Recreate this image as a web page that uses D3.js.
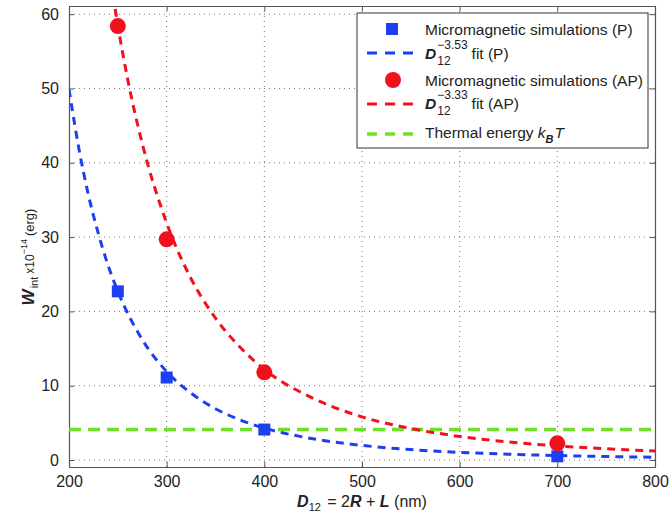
<!DOCTYPE html>
<html>
<head>
<meta charset="utf-8">
<script src="https://cdn.jsdelivr.net/npm/d3@7"></script>
<style>
  html, body { margin: 0; padding: 0; background: #fff; }
  svg { display: block; font-family: "Liberation Sans", Arial, Helvetica, sans-serif; }
</style>
</head>
<body>
<svg id="chart" width="672" height="514"></svg>
<script>
// ---------- data ----------
const xTicks = [200, 300, 400, 500, 600, 700, 800];
const yTicks = [0, 10, 20, 30, 40, 50, 60];

// micromagnetic simulations
const simD = [250, 300, 400, 700];
const simP = [22.7, 11.1, 4.1, 0.5];
const simAP = [58.4, 29.7, 11.8, 2.25];

// fitted curves
const fitPD = [200, 210, 220, 230, 240, 250, 275, 300, 325, 350, 375, 400, 450, 500, 550, 600, 650, 700, 750, 800];
const fitPW = [49.9, 42.0, 35.6, 30.5, 26.2, 22.7, 16.2, 11.9, 9.0, 6.9, 5.4, 4.3, 2.85, 1.97, 1.40, 1.03, 0.78, 0.60, 0.47, 0.37];
const fitAPD = [245, 250, 260, 275, 300, 325, 350, 375, 400, 450, 500, 550, 600, 650, 700, 750, 800];
const fitAPW = [62.6, 58.5, 51.3, 42.6, 31.9, 24.4, 19.1, 15.2, 12.2, 8.3, 5.8, 4.24, 3.17, 2.43, 1.90, 1.51, 1.22];

// thermal energy kBT
const thermalD = [200, 800];
const thermalW = [4.1, 4.1];

// ---------- layout ----------
const svg = d3.select("#chart");
const W = 672, H = 514;
const m = { left: 69, right: 17, top: 6, bottom: 47 };
const x = d3.scaleLinear().domain([200, 800]).range([m.left, W - m.right]);
const y = d3.scaleLinear().domain([-0.94, 61.1]).range([H - m.bottom, m.top]);

const BLUE = "#1e3ff0", RED = "#f2101c", GREEN = "#6ee02c";
const FONT = "'Liberation Sans', Arial, Helvetica, sans-serif";

svg.append("defs").append("clipPath").attr("id", "clip")
  .append("rect").attr("x", m.left).attr("y", m.top)
  .attr("width", W - m.left - m.right).attr("height", H - m.top - m.bottom);

// grid
const grid = svg.append("g").attr("stroke", "#666").attr("stroke-width", 0.9)
  .attr("stroke-dasharray", "1,4");
grid.selectAll(".gx").data(xTicks.filter(d => d > 200 && d < 800)).join("line")
  .attr("x1", d => x(d)).attr("x2", d => x(d))
  .attr("y1", y.range()[0]).attr("y2", y.range()[1]);
grid.selectAll(".gy").data(yTicks).join("line")
  .attr("y1", d => y(d)).attr("y2", d => y(d))
  .attr("x1", x.range()[0]).attr("x2", x.range()[1]);

// axes
const tickLen = 5;
const axB = svg.append("g").attr("transform", `translate(0,${y.range()[0]})`)
  .call(d3.axisBottom(x).tickValues(xTicks).tickFormat(d3.format("d")).tickSizeInner(-tickLen).tickSizeOuter(0).tickPadding(9));
const axT = svg.append("g").attr("transform", `translate(0,${y.range()[1]})`)
  .call(d3.axisTop(x).tickValues(xTicks).tickFormat("").tickSizeInner(-tickLen).tickSizeOuter(0));
const axL = svg.append("g").attr("transform", `translate(${x.range()[0]},0)`)
  .call(d3.axisLeft(y).tickValues(yTicks).tickFormat(d3.format("d")).tickSizeInner(-tickLen).tickSizeOuter(0).tickPadding(10));
const axR = svg.append("g").attr("transform", `translate(${x.range()[1]},0)`)
  .call(d3.axisRight(y).tickValues(yTicks).tickFormat("").tickSizeInner(-tickLen).tickSizeOuter(0));
[axB, axT, axL, axR].forEach(a => {
  a.select(".domain").attr("stroke", "#555").attr("stroke-width", 1.2);
  a.selectAll(".tick line").attr("stroke", "#555");
  a.selectAll("text").attr("font-size", 16).attr("font-family", FONT).attr("fill", "#222");
});

// curves
const plot = svg.append("g").attr("clip-path", "url(#clip)");
const line = d3.line().x(d => x(d[0])).y(d => y(d[1])).curve(d3.curveMonotoneX);

plot.append("path").datum(d3.zip(thermalD, thermalW)).attr("d", line)
  .attr("fill", "none").attr("stroke", GREEN).attr("stroke-width", 3.5).attr("stroke-dasharray", "12,7");
plot.append("path").datum(d3.zip(fitPD, fitPW)).attr("d", line)
  .attr("fill", "none").attr("stroke", BLUE).attr("stroke-width", 3).attr("stroke-dasharray", "8,6");
plot.append("path").datum(d3.zip(fitAPD, fitAPW)).attr("d", line)
  .attr("fill", "none").attr("stroke", RED).attr("stroke-width", 3).attr("stroke-dasharray", "8,6");

// markers
const sq = 12;
svg.append("g").selectAll("rect").data(d3.zip(simD, simP)).join("rect")
  .attr("x", d => x(d[0]) - sq / 2).attr("y", d => y(d[1]) - sq / 2)
  .attr("width", sq).attr("height", sq).attr("fill", BLUE);
svg.append("g").selectAll("circle").data(d3.zip(simD, simAP)).join("circle")
  .attr("cx", d => x(d[0])).attr("cy", d => y(d[1])).attr("r", 8).attr("fill", RED);

// ---------- rich text helper ----------
function rich(g, x0, y0, parts, anchor) {
  const grp = g.append("g");
  let cx = 0, stackStart = null, stackW = 0;
  parts.forEach(p => {
    const t = grp.append("text")
      .attr("x", cx).attr("y", p.dy || 0)
      .attr("font-size", p.size || 15)
      .attr("font-weight", p.bold ? "bold" : "normal")
      .attr("font-style", p.italic ? "italic" : "normal")
      .attr("font-family", FONT).attr("fill", "#222")
      .style("white-space", "pre")
      .text(p.t);
    const w = t.node().getComputedTextLength();
    if (p.stackStart) { stackStart = cx; stackW = w; t.attr("x", stackStart); }
    else if (p.stackEnd) { t.attr("x", stackStart); cx = stackStart + Math.max(stackW, w) + (p.gap || 0); }
    else cx += w + (p.gap || 0);
  });
  const shift = anchor === "middle" ? -cx / 2 : 0;
  grp.attr("transform", `translate(${x0 + shift},${y0})`);
  return grp;
}

// y-axis label
const yl = svg.append("g").attr("transform", "translate(34,257) rotate(-90)");
rich(yl, 0, 0, [
  { t: "W", size: 17, bold: true, italic: true, gap: 1 },
  { t: "int", size: 11, dy: 4, gap: 3 },
  { t: "x10", size: 12 },
  { t: "−14", size: 9, dy: -7, gap: 3 },
  { t: "(erg)", size: 13 }
], "middle");

// x-axis label
rich(svg, 362, 507, [
  { t: "D", size: 16, bold: true, italic: true },
  { t: "12", size: 11, dy: 4, gap: 2 },
  { t: " = 2", size: 16 },
  { t: "R", size: 16, bold: true, italic: true },
  { t: " + ", size: 16 },
  { t: "L", size: 16, bold: true, italic: true },
  { t: " (nm)", size: 16 }
], "middle");

// ---------- legend ----------
const lg = svg.append("g");
lg.append("rect").attr("x", 357).attr("y", 13).attr("width", 291).attr("height", 135)
  .attr("fill", "#fff").attr("stroke", "#333").attr("stroke-width", 1);
const lx1 = 367, lx2 = 417, tx = 425;
lg.append("rect").attr("x", 392 - 6).attr("y", 29 - 6).attr("width", 12).attr("height", 12).attr("fill", BLUE);
lg.append("line").attr("x1", lx1).attr("x2", lx2).attr("y1", 53).attr("y2", 53)
  .attr("stroke", BLUE).attr("stroke-width", 3).attr("stroke-dasharray", "10,8");
lg.append("circle").attr("cx", 393).attr("cy", 80).attr("r", 8).attr("fill", RED);
lg.append("line").attr("x1", lx1).attr("x2", lx2).attr("y1", 104).attr("y2", 104)
  .attr("stroke", RED).attr("stroke-width", 3).attr("stroke-dasharray", "10,8");
lg.append("line").attr("x1", lx1).attr("x2", lx2).attr("y1", 134).attr("y2", 134)
  .attr("stroke", GREEN).attr("stroke-width", 3.5).attr("stroke-dasharray", "10,8");

rich(lg, tx, 35, [{ t: "Micromagnetic simulations (P)", size: 15.5 }]);
rich(lg, tx, 59, [
  { t: "D", size: 15.5, bold: true, italic: true, gap: 1 },
  { t: "−3.53", size: 12, dy: -10, stackStart: true },
  { t: "12", size: 12, dy: 6, stackEnd: true, gap: 4 },
  { t: "fit (P)", size: 15.5 }
]);
rich(lg, tx, 86, [{ t: "Micromagnetic simulations (AP)", size: 15.5 }]);
rich(lg, tx, 109, [
  { t: "D", size: 15.5, bold: true, italic: true, gap: 1 },
  { t: "−3.33", size: 12, dy: -10, stackStart: true },
  { t: "12", size: 12, dy: 6, stackEnd: true, gap: 4 },
  { t: "fit (AP)", size: 15.5 }
]);
rich(lg, tx, 138, [
  { t: "Thermal energy ", size: 15.5 },
  { t: "k", size: 15.5, italic: true },
  { t: "B", size: 11, bold: true, italic: true, dy: 5, gap: 1 },
  { t: "T", size: 15.5, italic: true }
]);
</script>
</body>
</html>
